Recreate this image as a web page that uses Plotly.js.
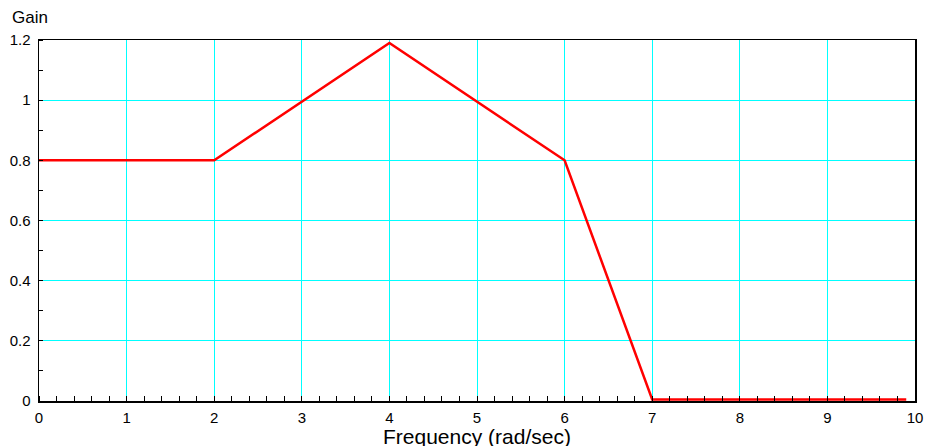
<!DOCTYPE html>
<html>
<head>
<meta charset="utf-8">
<script src="https://cdn.plot.ly/plotly-3.0.1.min.js"></script>
<style>html,body{margin:0;padding:0;background:#fff;}#chart{width:927px;height:446px;}</style>
</head>
<body>
<div id="chart"></div>
<script>
const freq = [0, 2, 4, 6, 7, 9.9];
const gain = [0.8, 0.8, 1.19, 0.8, 0.005, 0.005];
const xTicks = [0,1,2,3,4,5,6,7,8,9,10];
const yTicks = [0,0.2,0.4,0.6,0.8,1,1.2];
const yTickText = ['0','0.2','0.4','0.6','0.8','1','1.2'];

const font = {family: '"Liberation Sans", Arial, sans-serif', size: 15, color: '#000'};

Plotly.newPlot('chart', [{
  x: freq, y: gain, type: 'scatter', mode: 'lines',
  line: {color: '#ff0000', width: 2.5}, hoverinfo: 'none'
}], {
  width: 927, height: 446,
  margin: {l: 39, r: 12, t: 40, b: 45},
  paper_bgcolor: '#fff', plot_bgcolor: '#fff',
  showlegend: false,
  font: font,
  xaxis: {
    range: [0, 10], tickvals: xTicks, ticktext: xTicks.map(String),
    showgrid: true, gridcolor: '#00ffff', gridwidth: 1,
    zeroline: false, showline: true, linecolor: '#000', linewidth: 1.5, mirror: true,
    ticks: '', tickfont: font, ticklabelstandoff: 2,
    minor: {dtick: 0.2, tick0: 0, ticks: 'inside', ticklen: 5, tickcolor: '#000', showgrid: false}
  },
  yaxis: {
    range: [0, 1.2], tickvals: yTicks, ticktext: yTickText,
    showgrid: true, gridcolor: '#00ffff', gridwidth: 1,
    zeroline: false, showline: true, linecolor: '#000', linewidth: 1.5, mirror: true,
    ticks: '', tickfont: font, ticklabelstandoff: 4,
    minor: {dtick: 0.1, tick0: 0, ticks: 'inside', ticklen: 4, tickcolor: '#000', showgrid: false}
  },
  annotations: [
    {text: 'Gain', xref: 'paper', yref: 'paper', x: -0.033, y: 1.061, xanchor: 'left', yanchor: 'middle',
     showarrow: false, font: {family: font.family, size: 17, color: '#000'}},
    {text: 'Frequency (rad/sec)', xref: 'paper', yref: 'paper', x: 0.5, y: -0.0986, xanchor: 'center', yanchor: 'middle',
     showarrow: false, font: {family: font.family, size: 21, color: '#000'}}
  ]
}, {staticPlot: true});
</script>
</body>
</html>
